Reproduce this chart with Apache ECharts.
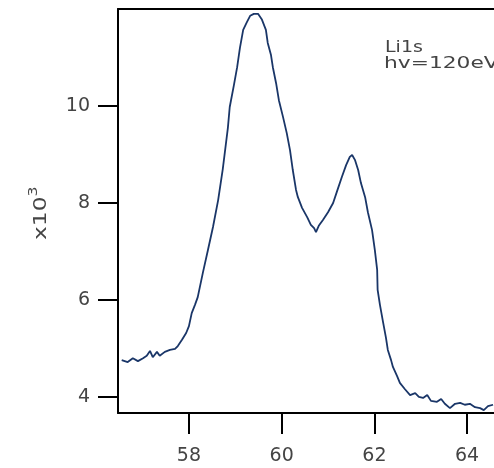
<!DOCTYPE html>
<html>
<head>
<meta charset="utf-8">
<script src="https://cdn.jsdelivr.net/npm/echarts@6/dist/echarts.min.js"></script>
<style>html,body{margin:0;padding:0;background:#fff;}#c{width:494px;height:468px;}</style>
</head>
<body>
<div id="c"></div>
<script>
// Binding energy (eV)
var energy = [56.55,56.68,56.79,56.90,57.01,57.09,57.16,57.22,57.31,57.37,57.48,57.59,57.70,57.76,57.85,57.94,58.00,58.06,58.13,58.19,58.30,58.41,58.52,58.63,58.73,58.84,58.88,58.97,59.04,59.10,59.17,59.25,59.32,59.40,59.49,59.57,59.66,59.70,59.77,59.81,59.88,59.94,60.03,60.11,60.18,60.24,60.31,60.35,60.44,60.55,60.63,60.70,60.74,60.80,60.89,61.00,61.11,61.19,61.30,61.39,61.47,61.52,61.58,61.65,61.71,61.80,61.86,61.95,62.01,62.06,62.07,62.12,62.19,62.25,62.29,62.36,62.40,62.49,62.55,62.66,62.77,62.88,62.96,63.05,63.14,63.22,63.35,63.44,63.52,63.63,63.74,63.85,63.95,64.06,64.17,64.28,64.36,64.45,64.56];
// Intensity (x10^3 counts)
var intensity = [4.76,4.72,4.80,4.74,4.80,4.85,4.95,4.82,4.93,4.85,4.93,4.97,4.99,5.05,5.18,5.32,5.46,5.73,5.90,6.06,6.56,7.03,7.51,8.06,8.70,9.55,9.98,10.43,10.80,11.20,11.57,11.73,11.86,11.90,11.90,11.79,11.57,11.30,11.05,10.80,10.47,10.12,9.77,9.44,9.09,8.68,8.27,8.12,7.90,7.71,7.55,7.48,7.40,7.53,7.65,7.81,8.00,8.23,8.54,8.78,8.95,8.99,8.89,8.68,8.41,8.12,7.81,7.44,7.03,6.62,6.21,5.90,5.53,5.22,4.97,4.76,4.62,4.43,4.29,4.16,4.04,4.08,4.00,3.98,4.04,3.92,3.90,3.96,3.86,3.77,3.86,3.88,3.84,3.86,3.79,3.77,3.73,3.81,3.84];
var xTicks = [58,60,62,64];
var yTicks = [4,6,8,10];
var annotation = ['Li1s', 'hv=120eV'];

var data = energy.map(function(e,i){return [e, intensity[i]];});
var chart = echarts.init(document.getElementById('c'));
var lblFont = 'DejaVu Sans';
chart.setOption({
  animation:false,
  backgroundColor:'#fff',
  grid:{left:118, right:0, top:9, bottom:55},
  xAxis:[{
    type:'value', min:56.47, max:64.58,
    axisLine:{show:true, onZero:false, lineStyle:{color:'#000', width:2}},
    axisTick:{show:true, inside:false, length:21, customValues:xTicks, lineStyle:{color:'#000', width:2}},
    axisLabel:{customValues:xTicks, margin:34, fontSize:19, fontFamily:lblFont, color:'#444'},
    splitLine:{show:false}
  },{
    type:'value', position:'top', min:56.47, max:64.58,
    axisLine:{show:true, onZero:false, lineStyle:{color:'#000', width:2}},
    axisTick:{show:false}, axisLabel:{show:false}, splitLine:{show:false}
  }],
  yAxis:{
    type:'value', min:3.67, max:12.0,
    axisLine:{show:true, onZero:false, lineStyle:{color:'#000', width:2}},
    axisTick:{show:true, inside:false, length:20, customValues:yTicks, lineStyle:{color:'#000', width:2}},
    axisLabel:{customValues:yTicks, margin:28, fontSize:19, fontFamily:lblFont, color:'#444'},
    splitLine:{show:false}
  },
  graphic:[
    {type:'text', left:385, top:41, scaleX:1.27, style:{text:annotation[0], fontSize:15, fontFamily:'DejaVu Sans', fill:'#444'}},
    {type:'text', left:384, top:57, scaleX:1.45, style:{text:annotation[1], fontSize:15, fontFamily:'DejaVu Sans', fill:'#444'}},
    {type:'text', x:28, y:240, rotation:Math.PI/2, scaleX:1.3,
     style:{text:'{a|x10}{b|3}', rich:{a:{fontSize:18, fontFamily:'DejaVu Sans', fill:'#444', verticalAlign:'bottom'}, b:{fontSize:12, fontFamily:'DejaVu Sans', fill:'#444', verticalAlign:'top', padding:[0,0,10,0]}}}}
  ],
  series:[{
    type:'line', data:data, showSymbol:false, symbol:'none',
    lineStyle:{color:'#1a3668', width:1.8}
  }]
});
</script>
</body>
</html>
